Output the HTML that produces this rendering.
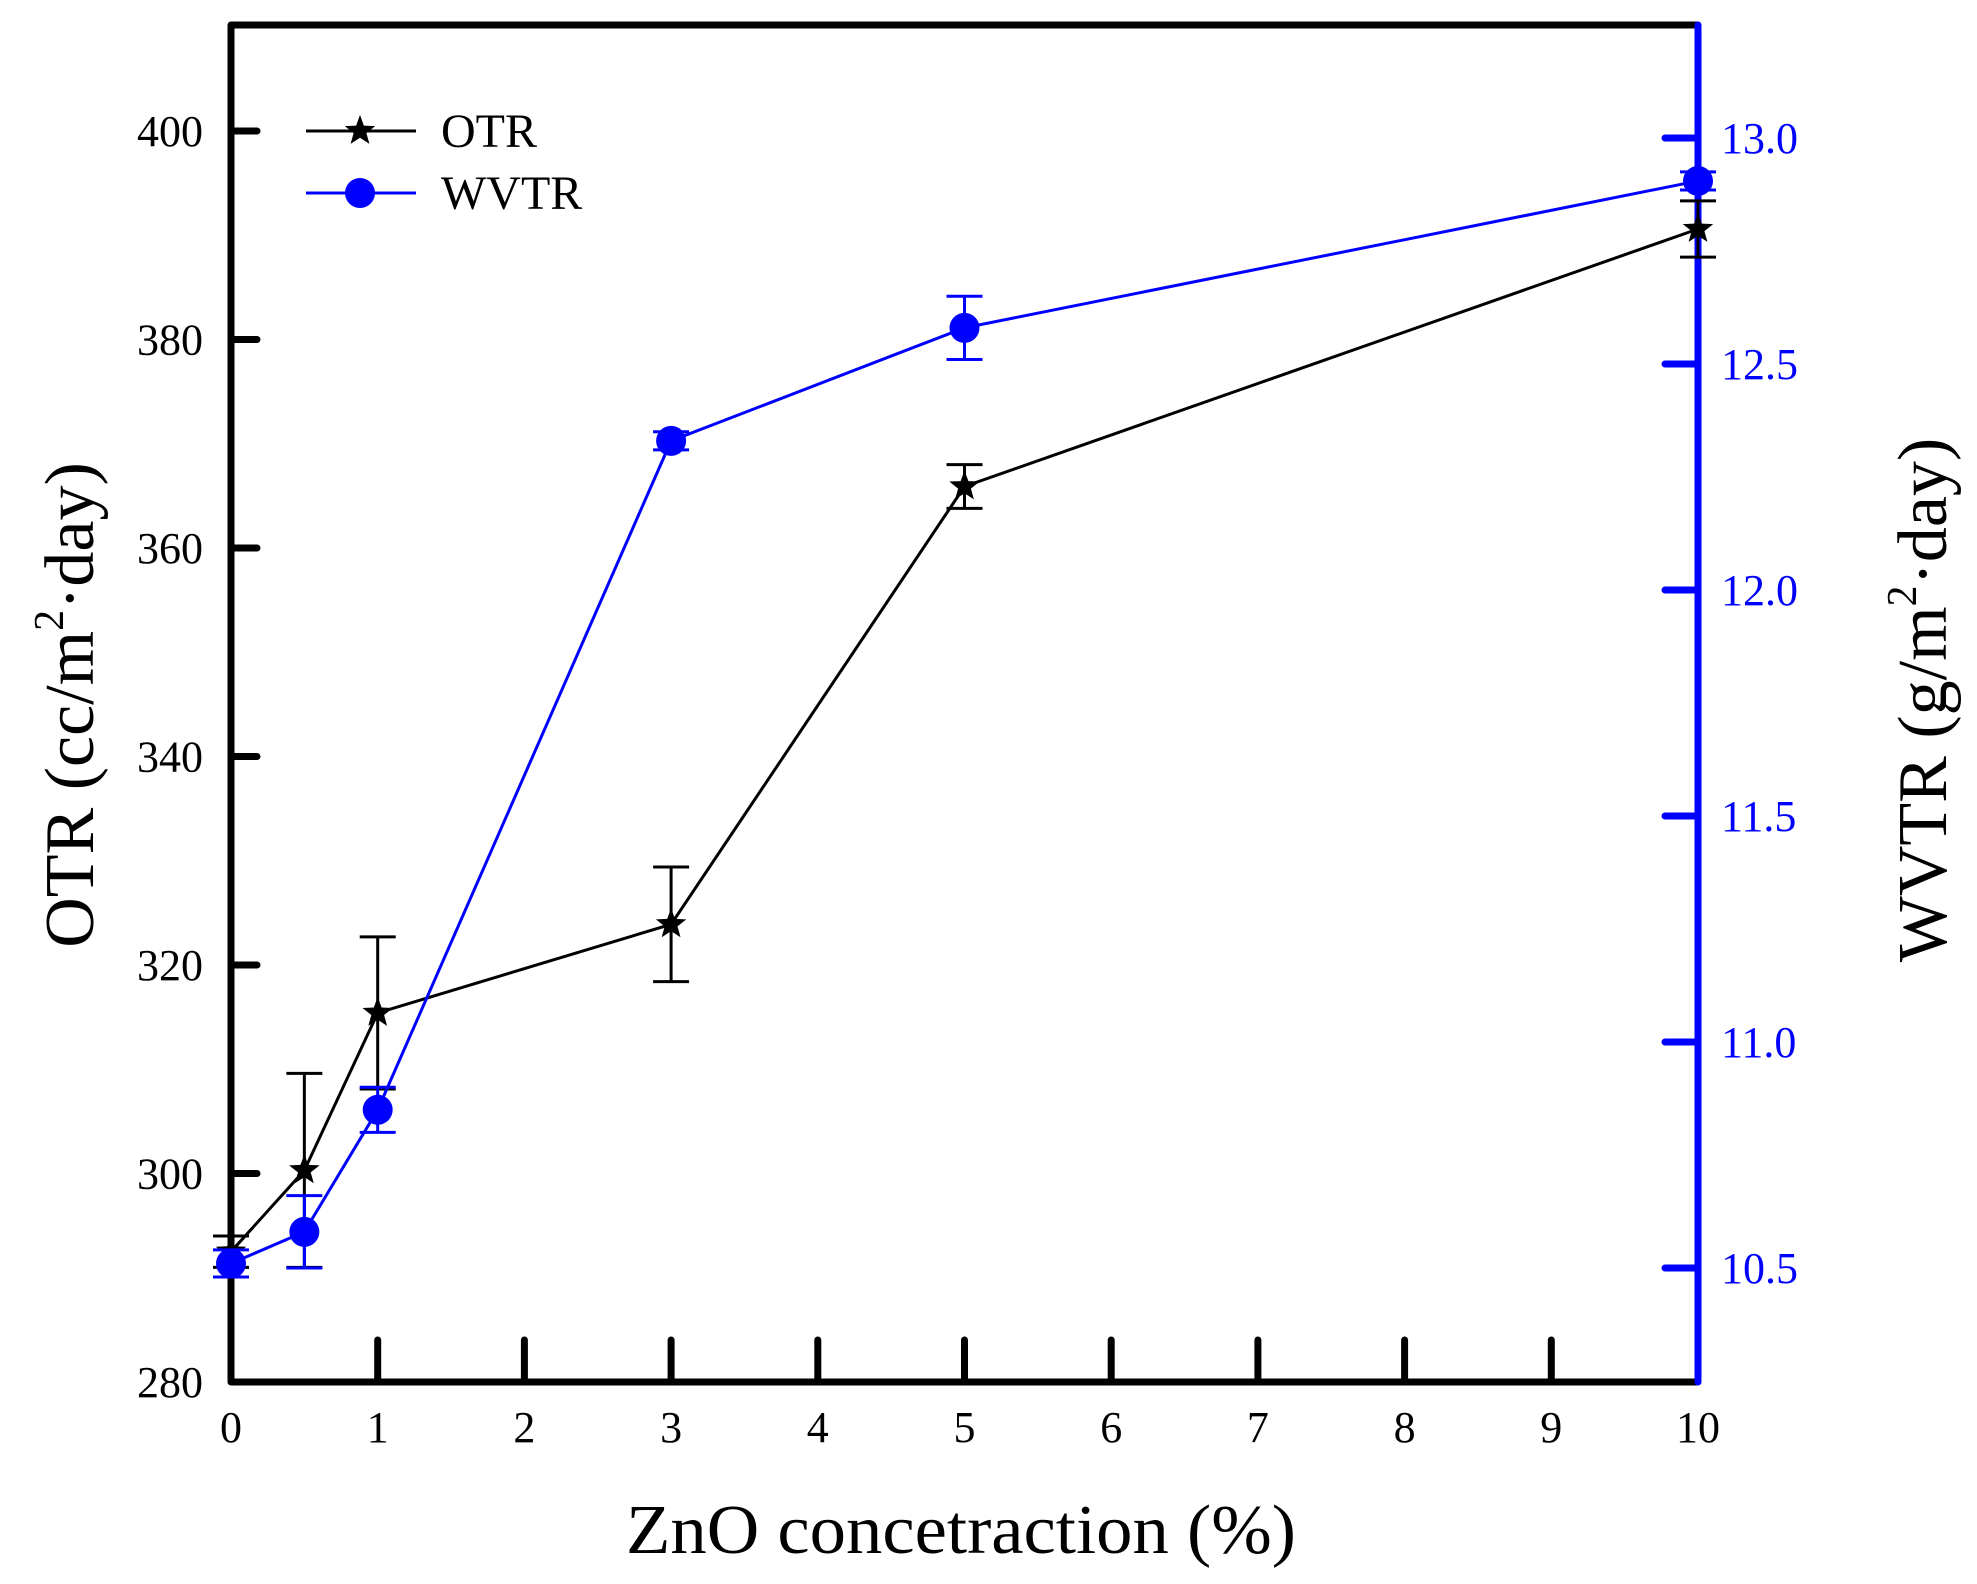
<!DOCTYPE html>
<html><head><meta charset="utf-8">
<style>html,body{margin:0;padding:0;background:#fff}svg{display:block}</style>
</head><body>
<svg id="chart" width="1977" height="1584" viewBox="0 0 1977 1584" xmlns="http://www.w3.org/2000/svg" font-family="'Liberation Serif', serif">
<g id="plot"></g>
</svg>
<script>
const xCategories = [0, 0.5, 1, 3, 5, 10];
const otrValues = [292.5, 300.3, 315.4, 323.9, 365.9, 390.6];
const otrErrors = [1.5, 9.3, 7.3, 5.5, 2.1, 2.7];
const wvtrValues = [10.51, 10.58, 10.85, 12.33, 12.58, 12.905];
const wvtrErrors = [0.03, 0.08, 0.05, 0.02, 0.07, 0.02];
const xTicks = [0,1,2,3,4,5,6,7,8,9,10];
const leftTicks = [280,300,320,340,360,380,400];
const rightTicks = ["10.5","11.0","11.5","12.0","12.5","13.0"];

const NS = "http://www.w3.org/2000/svg";
const X0 = 231, X1 = 1698, YB = 1382, YT = 25;
const xScale = v => X0 + (v - 0) / 10 * (X1 - X0);
const yLeft = v => 1382 - (v - 280) / 120 * (1382 - 131);
const yRight = v => 138 + (13 - v) / 0.5 * 226;
const g = document.getElementById('plot');
function mk(tag, attrs, parent) {
  const e = document.createElementNS(NS, tag);
  for (const k in attrs) e.setAttribute(k, attrs[k]);
  (parent || g).appendChild(e);
  return e;
}
function starPath(cx, cy, r) {
  let d = "";
  for (let i = 0; i < 10; i++) {
    const rr = i % 2 ? r * 0.42 : r;
    const a = -Math.PI / 2 + i * Math.PI / 5;
    d += (i ? "L" : "M") + (cx + rr * Math.cos(a)).toFixed(1) + "," + (cy + rr * Math.sin(a)).toFixed(1);
  }
  return d + "Z";
}

xTicks.forEach(t => {
  const x = xScale(t);
  if (t > 0 && t < 10) {
    const l = mk('line', {x1:x, y1:YB, x2:x, y2:YB-42, stroke:'#000', 'stroke-width':7, 'stroke-linecap':'round'});
    
    
  }
  const tx = mk('text', {x:x, y:1442, 'font-size':44, 'text-anchor':'middle', fill:'#000'});
  tx.textContent = t;
  
  
});
leftTicks.forEach(t => {
  const y = yLeft(t);
  if (t > 280) {
    const l = mk('line', {x1:X0, y1:y, x2:X0+26, y2:y, stroke:'#000', 'stroke-width':7, 'stroke-linecap':'round'});
    
    
  }
  const tx = mk('text', {x:203, y:y+15, 'font-size':44, 'text-anchor':'end', fill:'#000'});
  tx.textContent = t;
  
  
});
rightTicks.forEach(t => {
  const y = yRight(parseFloat(t));
  const l = mk('line', {x1:X1, y1:y, x2:X1-33, y2:y, stroke:'#0000ff', 'stroke-width':7, 'stroke-linecap':'round'});
  
  
  const tx = mk('text', {x:1721, y:y+15, 'font-size':44, fill:'#0000ff'});
  tx.textContent = t;
  
  
});
const fr = mk('path', {d:`M${X1},${YT} L${X0},${YT} L${X0},${YB} L${X1},${YB}`, fill:'none', stroke:'#000', 'stroke-width':7, 'stroke-linejoin':'round'});


const ra = mk('line', {x1:X1, y1:YT, x2:X1, y2:YB, stroke:'#0000ff', 'stroke-width':7, 'stroke-linecap':'round'});



function drawSeries(vals, errs, yf, color, kind, name) {
  const pts = xCategories.map((c, i) => [xScale(c), yf(vals[i])]);
  const pl = mk('polyline', {points: pts.map(p => p.join(',')).join(' '), fill:'none', stroke:color, 'stroke-width':3});
  
  
  xCategories.forEach((c, i) => {
    const x = xScale(c), yt = yf(vals[i] + errs[i]), yb = yf(vals[i] - errs[i]);
    const eb = mk('path', {d:`M${x},${yt}L${x},${yb}M${x-18},${yt}L${x+18},${yt}M${x-18},${yb}L${x+18},${yb}`, stroke:color, 'stroke-width':3, fill:'none'});
    
    
    let m;
    if (kind === 'star') m = mk('path', {d: starPath(x, yf(vals[i]), 16), fill:color});
    else m = mk('circle', {cx:x, cy:yf(vals[i]), r:15, fill:color});
    
    
  });
}
drawSeries(otrValues, otrErrors, yLeft, '#000', 'star', 'otr');
drawSeries(wvtrValues, wvtrErrors, yRight, '#0000ff', 'circle', 'wvtr');

const lg = mk('g', {});


mk('line', {x1:306, y1:131, x2:416, y2:131, stroke:'#000', 'stroke-width':3}, lg);
mk('path', {d: starPath(360, 131, 16), fill:'#000'}, lg);
const t1 = mk('text', {x:441, y:147, 'font-size':48, fill:'#000'}, lg);
t1.textContent = 'OTR';


mk('line', {x1:306, y1:193, x2:416, y2:193, stroke:'#0000ff', 'stroke-width':3}, lg);
mk('circle', {cx:360, cy:193, r:15, fill:'#0000ff'}, lg);
const t2 = mk('text', {x:441, y:209, 'font-size':48, fill:'#000'}, lg);
t2.textContent = 'WVTR';


</script>
<svg style="position:absolute;left:0;top:0" width="1977" height="1584" font-family="'Liberation Serif', serif">
<text x="961" y="1553" font-size="70" text-anchor="middle" textLength="670" lengthAdjust="spacingAndGlyphs">ZnO concetraction (%)</text>
<text transform="translate(93,705) rotate(-90)" font-size="70" text-anchor="middle">OTR (cc/m<tspan font-size="42" dy="-30">2</tspan><tspan dy="30">·day)</tspan></text>
<text transform="translate(1946,700) rotate(-90)" font-size="70" text-anchor="middle">WVTR (g/m<tspan font-size="42" dy="-30">2</tspan><tspan dy="30">·day)</tspan></text>
</svg>
</body></html>
